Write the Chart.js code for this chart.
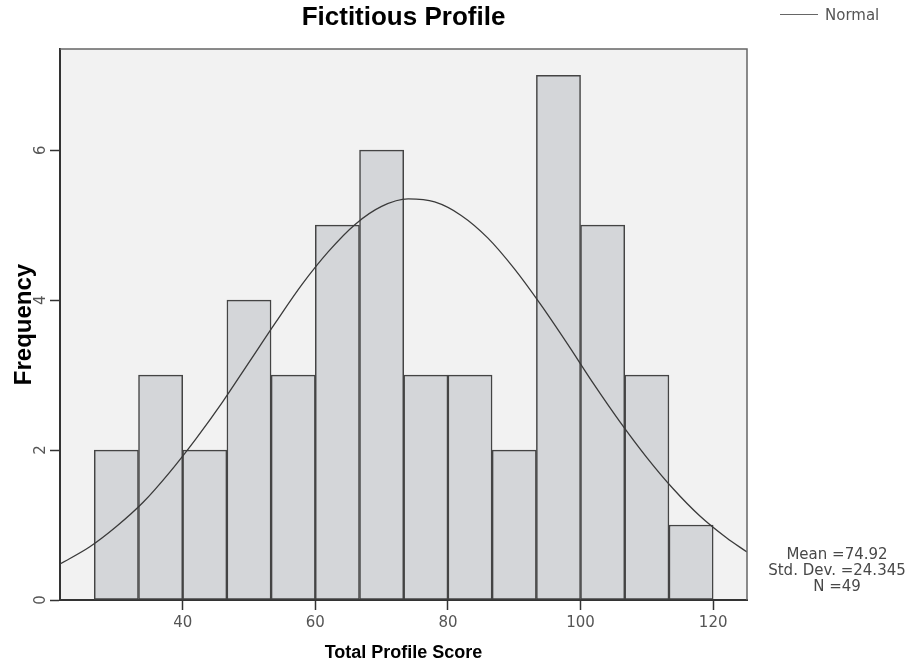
<!DOCTYPE html>
<html>
<head>
<meta charset="utf-8">
<script src="https://cdn.jsdelivr.net/npm/chart.js@4/dist/chart.umd.min.js"></script>
<style>
  html, body { margin: 0; padding: 0; background: #ffffff; }
  #wrap { position: relative; width: 909px; height: 666px; }
  #c { position: absolute; left: 0; top: 0; }
  .legend { position: absolute; left: 780px; top: 5px; height: 20px; font-family: "DejaVu Sans", sans-serif; font-size: 15px; color: #555; line-height: 20px; white-space: nowrap; }
  .legend .swatch { display: inline-block; width: 38px; height: 0; border-top: 1.5px solid #666; vertical-align: middle; margin-right: 7px; position: relative; top: -1px; }
  .stats { position: absolute; left: 757px; width: 160px; top: 546px; text-align: center; font-family: "DejaVu Sans", sans-serif; font-size: 15px; line-height: 16px; color: #484848; }
</style>
</head>
<body>
<div id="wrap">
  <canvas id="c" width="909" height="666"></canvas>
  <div class="legend"><span class="swatch"></span>Normal</div>
  <div class="stats">Mean =74.92<br>Std. Dev. =24.345<br>N =49</div>
</div>
<script>
// Histogram bins (centres of each bin, width ~6.67)
const binCenters = [30, 36.67, 43.33, 50, 56.67, 63.33, 70, 76.67, 83.33, 90, 96.67, 103.33, 110, 116.67];
const frequencies = [2, 3, 2, 4, 3, 5, 6, 3, 3, 2, 7, 5, 3, 1];

// Normal curve
const curveX = [21.5, 26, 30, 34, 38, 42, 46, 50, 54, 58, 62, 66, 70, 74, 78, 82, 86, 90, 94, 98, 102, 106, 110, 114, 118, 122, 125.1];
const curveY = [0.48, 0.71, 0.98, 1.30, 1.70, 2.15, 2.64, 3.17, 3.70, 4.21, 4.65, 5.01, 5.25, 5.35, 5.31, 5.13, 4.83, 4.42, 3.94, 3.42, 2.88, 2.37, 1.90, 1.48, 1.12, 0.83, 0.64];

// Tick labels
const xTicks = [40, 60, 80, 100, 120];
const yTicks = [0, 2, 4, 6];

const xMin = 21.5, xMax = 125.1, yMin = 0, yMax = 7.35;

const frameBg = {
  id: 'frameBg',
  beforeDraw(chart) {
    const {ctx, chartArea: a} = chart;
    ctx.save();
    ctx.fillStyle = '#f2f2f2';
    ctx.fillRect(a.left, a.top, a.right - a.left, a.bottom - a.top);
    ctx.restore();
  },
  afterDatasetsDraw(chart) {
    const {ctx, chartArea: a} = chart;
    ctx.save();
    ctx.strokeStyle = '#666';
    ctx.lineWidth = 1.5;
    ctx.beginPath();
    ctx.moveTo(a.left, a.top);
    ctx.lineTo(a.right, a.top);
    ctx.lineTo(a.right, a.bottom);
    ctx.stroke();
    ctx.restore();
  }
};

new Chart(document.getElementById('c'), {
  type: 'bar',
  data: {
    datasets: [
      {
        type: 'line',
        label: 'Normal',
        data: curveX.map((x, i) => ({x: x, y: curveY[i]})),
        borderColor: '#3a3a3a',
        borderWidth: 1.3,
        pointRadius: 0,
        fill: false,
        tension: 0.4,
        cubicInterpolationMode: 'monotone',
        order: 0
      },
      {
        type: 'bar',
        label: 'Frequency',
        data: binCenters.map((x, i) => ({x: x, y: frequencies[i]})),
        backgroundColor: '#d4d6d9',
        borderColor: '#444',
        borderWidth: 1.5,
        borderSkipped: false,
        barPercentage: 1,
        categoryPercentage: 1,
        order: 1
      }
    ]
  },
  options: {
    responsive: false,
    animation: false,
    events: [],
    layout: { padding: { left: 0, right: 162, top: 0, bottom: 0 } },
    plugins: {
      legend: { display: false },
      tooltip: { enabled: false },
      title: {
        display: true,
        text: 'Fictitious Profile',
        fullSize: false,
        color: '#000',
        font: { family: '"Liberation Sans", Arial, sans-serif', size: 26, weight: 'bold', lineHeight: 1 },
        padding: { top: 5, bottom: 18 }
      }
    },
    scales: {
      x: {
        type: 'linear',
        min: xMin,
        max: xMax,
        offset: false,
        afterBuildTicks(scale) { scale.ticks = xTicks.map(v => ({value: v})); },
        afterFit(scale) { scale.height = 66; },
        grid: { offset: false, drawOnChartArea: false, drawTicks: true, tickLength: 10, tickColor: '#333', tickWidth: 1.5 },
        border: { display: true, color: '#333', width: 2 },
        ticks: { color: '#555', padding: 4, font: { family: '"DejaVu Sans", sans-serif', size: 15 }, maxRotation: 0, minRotation: 0 },
        title: {
          display: true,
          text: 'Total Profile Score',
          color: '#000',
          font: { family: '"Liberation Sans", Arial, sans-serif', size: 18, weight: 'bold', lineHeight: 1 },
          padding: { top: 0, bottom: 4 }
        }
      },
      y: {
        type: 'linear',
        min: yMin,
        max: yMax,
        afterBuildTicks(scale) { scale.ticks = yTicks.map(v => ({value: v})); },
        afterFit(scale) { scale.width = 60; },
        grid: { drawOnChartArea: false, drawTicks: true, tickLength: 10, tickColor: '#333', tickWidth: 1.5 },
        border: { display: true, color: '#333', width: 2 },
        ticks: { color: '#555', padding: 4, crossAlign: 'center', minRotation: 90, maxRotation: 90, font: { family: '"DejaVu Sans", sans-serif', size: 15 } },
        title: {
          display: true,
          text: 'Frequency',
          color: '#000',
          font: { family: '"Liberation Sans", Arial, sans-serif', size: 24, weight: 'bold', lineHeight: 1 },
          padding: { top: 12, bottom: 0 }
        }
      }
    }
  },
  plugins: [frameBg]
});
</script>
</body>
</html>
